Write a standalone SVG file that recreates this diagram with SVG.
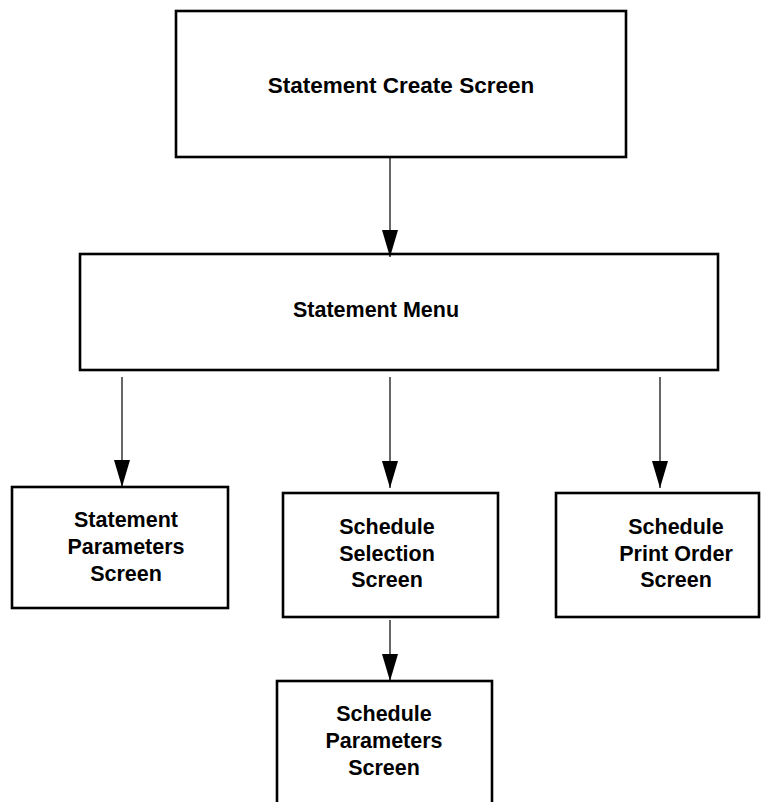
<svg xmlns="http://www.w3.org/2000/svg" width="761" height="802" viewBox="0 0 761 802">
  <style>
    .box { fill: #ffffff; stroke: #000000; stroke-width: 2.6; }
    .lbl { font-family: "Liberation Sans", Arial, Helvetica, sans-serif; font-weight: bold; font-size: 21.5px; fill: #000000; text-anchor: middle; }
    .conn { stroke: #000000; stroke-width: 1.2; fill: none; marker-end: url(#arrow); }
  </style>
  <defs>
    <marker id="arrow" viewBox="0 0 27 16" refX="27" refY="8" markerWidth="27" markerHeight="16" markerUnits="userSpaceOnUse" orient="auto">
      <path d="M0,0 L27,8 L0,16 Z" fill="#000000"/>
    </marker>
  </defs>
  <rect width="761" height="802" fill="#ffffff"/>

  <g id="statement-create-screen">
    <rect class="box" x="176" y="11" width="450" height="146"/>
    <text class="lbl" x="401" y="93" style="font-size:22.5px">Statement Create Screen</text>
  </g>

  <g id="statement-menu">
    <rect class="box" x="80" y="254" width="638" height="116"/>
    <text class="lbl" x="376" y="317">Statement Menu</text>
  </g>

  <g id="statement-parameters-screen">
    <rect class="box" x="12" y="487" width="216" height="121"/>
    <text class="lbl" x="126" y="527">Statement</text>
    <text class="lbl" x="126" y="554">Parameters</text>
    <text class="lbl" x="126" y="581">Screen</text>
  </g>

  <g id="schedule-selection-screen">
    <rect class="box" x="283" y="493" width="215" height="124"/>
    <text class="lbl" x="387" y="534">Schedule</text>
    <text class="lbl" x="387" y="561">Selection</text>
    <text class="lbl" x="387" y="587">Screen</text>
  </g>

  <g id="schedule-print-order-screen">
    <rect class="box" x="556" y="493" width="203" height="124"/>
    <text class="lbl" x="676" y="534">Schedule</text>
    <text class="lbl" x="676" y="561">Print Order</text>
    <text class="lbl" x="676" y="587">Screen</text>
  </g>

  <g id="schedule-parameters-screen">
    <rect class="box" x="277" y="681" width="215" height="130"/>
    <text class="lbl" x="384" y="721">Schedule</text>
    <text class="lbl" x="384" y="748">Parameters</text>
    <text class="lbl" x="384" y="775">Screen</text>
  </g>

  <g id="connectors">
    <line class="conn" x1="390" y1="157" x2="390" y2="257"/>
    <line class="conn" x1="122" y1="377" x2="122" y2="487"/>
    <line class="conn" x1="390" y1="377" x2="390" y2="488"/>
    <line class="conn" x1="660" y1="377" x2="660" y2="488"/>
    <line class="conn" x1="390" y1="620" x2="390" y2="681"/>
  </g>
</svg>
